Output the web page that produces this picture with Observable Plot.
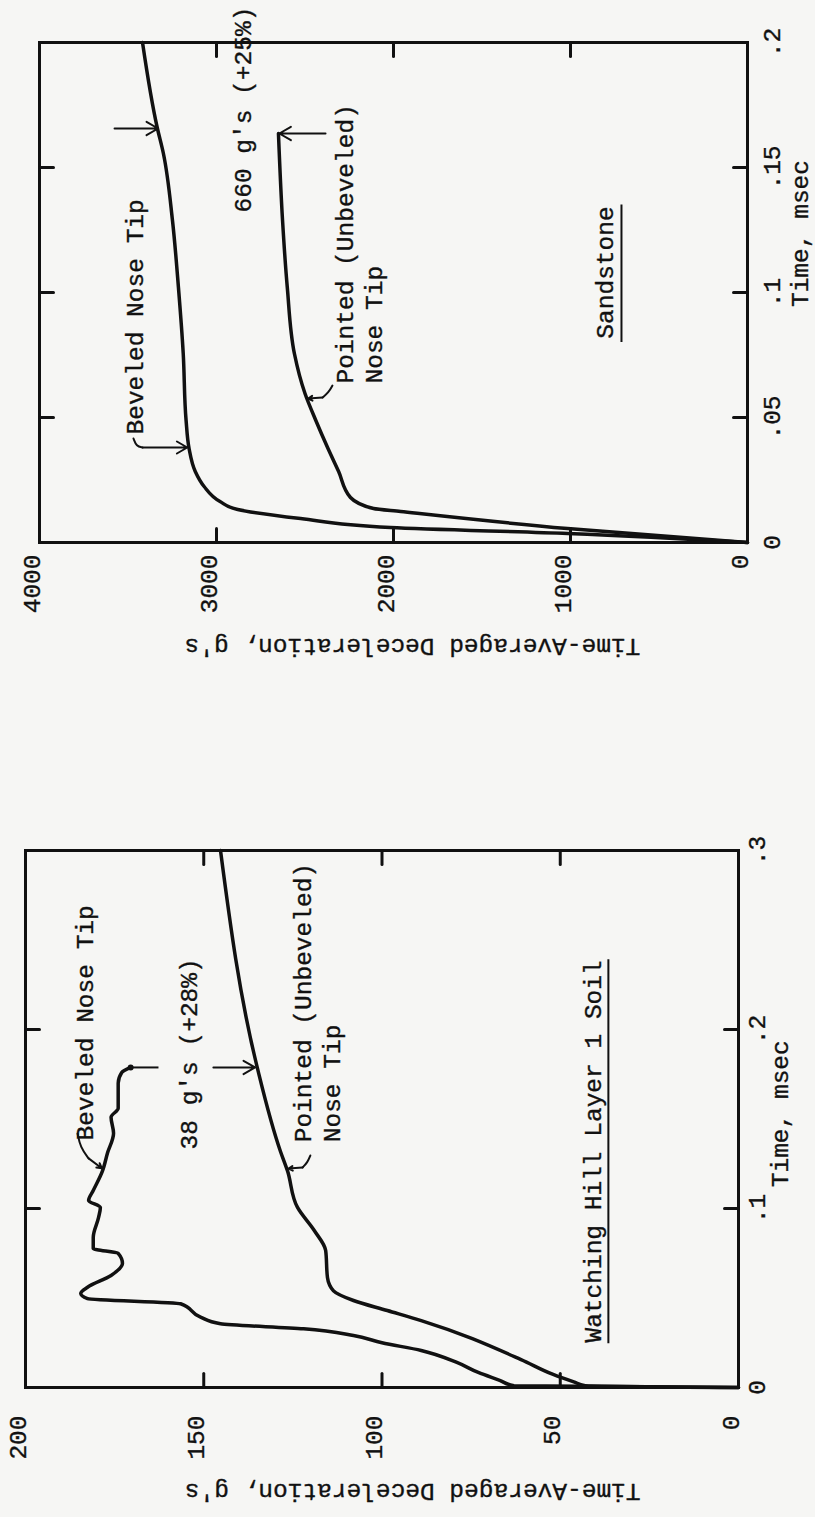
<!DOCTYPE html>
<html>
<head>
<meta charset="utf-8">
<script src="https://cdn.jsdelivr.net/npm/d3@7"></script>
<script src="https://cdn.jsdelivr.net/npm/@observablehq/plot@0.6"></script>
<style>
html, body { margin: 0; padding: 0; background: #f6f6f4; }
#page { width: 815px; height: 1517px; position: relative; overflow: hidden; background: #f6f6f4; }
#page svg { display: block; }
</style>
</head>
<body>
<div id="page"></div>
<script>
// ---------- Sandstone panel (time in msec, deceleration in g's) ----------
const sandBevTime = [0, 0.0036, 0.006, 0.0096, 0.0132, 0.0164, 0.0224, 0.0284, 0.0376, 0.049, 0.0756, 0.102, 0.129, 0.1556, 0.166, 0.2];
const sandBevG    = [0, 1017, 2017, 2525, 2880, 2980, 3070, 3120, 3155, 3172, 3188, 3215, 3249, 3300, 3335, 3418];
const sandPtTime  = [0, 0.0056, 0.0124, 0.0136, 0.018, 0.0284, 0.0376, 0.049, 0.0596, 0.0756, 0.102, 0.129, 0.1636];
const sandPtG     = [0, 1017, 1960, 2113, 2243, 2310, 2370, 2440, 2500, 2560, 2600, 2627, 2650];
const sandGTicks  = [0, 1000, 2000, 3000, 4000];
const sandGInner  = [1000, 2000, 3000];
const sandTTicks  = [0, 0.05, 0.1, 0.15, 0.2];
const sandTInner  = [0.05, 0.1, 0.15];
const sandNotes = [
  {g: 3469, t: 0.0432, text: "Beveled Nose Tip"},
  {g: 2859, t: 0.132, text: "660 g's (+25%)"},
  {g: 2200, t: 0.0636, text: "Pointed (Unbeveled)\nNose Tip"}
];
const sandSoil = [{g: 802, t: 0.108, text: "Sandstone"}];
const sandUnderline = [{g: 712, t1: 0.080, t2: 0.135}];
const sandArrows = [
  {g1: 3576, t1: 0.1656, g2: 3330, t2: 0.1656},
  {g1: 2384, t1: 0.1636, g2: 2645, t2: 0.1636}
];
const sandLeaderBev = [{g: 3469, t: 0.0416}, {g: 3452, t: 0.0384}, {g: 3418, t: 0.038}];
const sandLeaderBevTip = [{g1: 3418, t1: 0.038, g2: 3165, t2: 0.038}];
const sandLeaderPt = [{g: 2345, t: 0.0628}, {g: 2367, t: 0.06}, {g: 2401, t: 0.058}];
const sandLeaderPtTip = [{g1: 2401, t1: 0.058, g2: 2482, t2: 0.0576}];

// ---------- Watching Hill Layer 1 Soil panel ----------
const whBevTime = [0, 0.001, 0.004, 0.0084, 0.014, 0.0207, 0.025, 0.029, 0.0328, 0.0356, 0.0393, 0.0468, 0.0497, 0.0525, 0.056, 0.0626, 0.0693, 0.0749, 0.0777, 0.0838, 0.095, 0.1006, 0.1045, 0.11, 0.121, 0.131, 0.142, 0.151, 0.156, 0.164, 0.17, 0.176, 0.1788];
const whBevG    = [0, 63, 67, 73, 79, 89, 100, 108, 122, 145.3, 150.9, 156.5, 182.6, 184.5, 182.6, 176, 172.8, 174, 181, 181, 179.5, 179, 182.3, 181, 178.4, 177, 175.3, 176, 174, 174, 174, 173, 170.5];
const whPtTime  = [0, 0.001, 0.003, 0.0073, 0.0156, 0.0374, 0.043, 0.0486, 0.054, 0.0615, 0.0765, 0.0877, 0.1006, 0.121, 0.132, 0.1788, 0.3];
const whPtG     = [0, 43, 46, 52, 61, 89, 98.5, 108, 113.6, 115.3, 115.8, 119, 123.7, 126.5, 128.5, 135, 145.3];
const whGTicks  = [0, 50, 100, 150, 200];
const whGInner  = [50, 100, 150];
const whTTicks  = [0, 0.1, 0.2, 0.3];
const whTInner  = [0.1, 0.2];
const whNotes = [
  {g: 183.7, t: 0.138, text: "Beveled Nose Tip"},
  {g: 154.6, t: 0.133, text: "38 g's (+28%)"},
  {g: 118.5, t: 0.137, text: "Pointed (Unbeveled)\nNose Tip"}
];
const whSoil = [{g: 40.7, t: 0.0251, text: "Watching Hill Layer 1 Soil"}];
const whUnderline = [{g: 36.5, t1: 0.0245, t2: 0.239}];
const whDash = [{g1: 170.5, t1: 0.1788, g2: 162.7, t2: 0.1788}];
const whArrow = [{g1: 147.3, t1: 0.1788, g2: 135.6, t2: 0.1788}];
const whEndDot = [{g: 170.5, t: 0.1788}];
const whLeaderBev = [{g: 185.4, t: 0.1419}, {g: 184.6, t: 0.1341}, {g: 182.3, t: 0.128}];
const whLeaderBevTip = [{g1: 182.3, t1: 0.128, g2: 178.6, t2: 0.1225}];
const whLeaderPt = [{g: 120.1, t: 0.1296}, {g: 120.9, t: 0.1257}, {g: 122.3, t: 0.1229}];
const whLeaderPtTip = [{g1: 122.3, t1: 0.1229, g2: 126.2, t2: 0.1223}];

const timeTitle = "Time, msec";
const decelTitle = "Time-Averaged Deceleration, g's";

// ---------- helpers ----------
const ink = "#111111";
const FONT = "'Liberation Mono', 'DejaVu Sans Mono', monospace";
const FS = 24.5;
const zip = (ts, gs) => ts.map((t, i) => ({t, g: gs[i]}));
const fmtT = d => d === 0 ? "0" : String(d).replace(/^0/, "");
const tickShape = {draw(ctx, l) { ctx.moveTo(0, 0); ctx.lineTo(0, -l); }};

function frameTicks(gInner, tInner, gMax, tMax) {
  const o = {length: 14, anchor: "start", shape: tickShape, stroke: ink, strokeWidth: 3};
  return [
    Plot.vector(gInner, {...o, x: d => d, y: 0, rotate: 0}),
    Plot.vector(gInner, {...o, x: d => d, y: tMax, rotate: 180}),
    Plot.vector(tInner, {...o, y: d => d, x: 0, rotate: -90}),
    Plot.vector(tInner, {...o, y: d => d, x: gMax, rotate: 90})
  ];
}
const txt = {fontFamily: FONT, fontSize: FS, fill: ink, stroke: ink, strokeWidth: 0.35};

// ---------- Sandstone plot ----------
const sandPlot = Plot.plot({
  width: 815, height: 700,
  marginLeft: 39, marginRight: 68, marginTop: 42, marginBottom: 158,
  x: {domain: [0, 4000], reverse: true, axis: null},
  y: {domain: [0, 0.2], axis: null},
  style: {background: "transparent", overflow: "visible"},
  marks: [
    Plot.frame({stroke: ink, strokeWidth: 3}),
    ...frameTicks(sandGInner, sandTInner, 4000, 0.2),
    Plot.text(sandGTicks, {...txt, x: d => d, frameAnchor: "bottom", dy: 12, rotate: -90, textAnchor: "end", text: d => String(d)}),
    Plot.text(sandTTicks, {...txt, y: d => d, frameAnchor: "right", dx: 25, rotate: -90, textAnchor: "middle", text: fmtT}),
    Plot.text([{t: 0.153, label: timeTitle}], {...txt, y: "t", frameAnchor: "right", dx: 53, rotate: -90, textAnchor: "end", text: "label"}),
    Plot.text([{g: 1893, label: decelTitle}], {...txt, x: "g", frameAnchor: "bottom", dy: 96, rotate: 180, textAnchor: "middle", text: "label"}),
    Plot.line(zip(sandBevTime, sandBevG), {x: "g", y: "t", curve: "monotone-y", stroke: ink, strokeWidth: 3.5}),
    Plot.line(zip(sandPtTime, sandPtG), {x: "g", y: "t", curve: "monotone-y", stroke: ink, strokeWidth: 3.5}),
    Plot.text(sandNotes, {...txt, x: "g", y: "t", text: "text", rotate: -90, textAnchor: "start", lineHeight: 1.2}),
    Plot.text(sandSoil, {...txt, x: "g", y: "t", text: "text", rotate: -90, textAnchor: "middle"}),
    Plot.ruleX(sandUnderline, {x: "g", y1: "t1", y2: "t2", stroke: ink, strokeWidth: 2}),
    Plot.arrow(sandArrows, {x1: "g1", y1: "t1", x2: "g2", y2: "t2", stroke: ink, strokeWidth: 2, headLength: 10}),
    Plot.line(sandLeaderBev, {x: "g", y: "t", curve: "basis", stroke: ink, strokeWidth: 2}),
    Plot.arrow(sandLeaderBevTip, {x1: "g1", y1: "t1", x2: "g2", y2: "t2", stroke: ink, strokeWidth: 2, headLength: 9}),
    Plot.line(sandLeaderPt, {x: "g", y: "t", curve: "basis", stroke: ink, strokeWidth: 2}),
    Plot.arrow(sandLeaderPtTip, {x1: "g1", y1: "t1", x2: "g2", y2: "t2", stroke: ink, strokeWidth: 2, headLength: 9})
  ]
});

// ---------- Watching Hill plot ----------
const whPlot = Plot.plot({
  width: 815, height: 817,
  marginLeft: 25, marginRight: 77, marginTop: 150, marginBottom: 130,
  x: {domain: [0, 200], reverse: true, axis: null},
  y: {domain: [0, 0.3], axis: null},
  style: {background: "transparent", overflow: "visible"},
  marks: [
    Plot.frame({stroke: ink, strokeWidth: 3}),
    ...frameTicks(whGInner, whTInner, 200, 0.3),
    Plot.text(whGTicks, {...txt, x: d => d, frameAnchor: "bottom", dy: 28, rotate: -90, textAnchor: "end", text: d => String(d)}),
    Plot.text(whTTicks, {...txt, y: d => d, frameAnchor: "right", dx: 19, rotate: -90, textAnchor: "middle", text: fmtT}),
    Plot.text([{t: 0.194, label: timeTitle}], {...txt, y: "t", frameAnchor: "right", dx: 42, rotate: -90, textAnchor: "end", text: "label"}),
    Plot.text([{g: 91.4, label: decelTitle}], {...txt, x: "g", frameAnchor: "bottom", dy: 96, rotate: 180, textAnchor: "middle", text: "label"}),
    Plot.line(zip(whBevTime, whBevG), {x: "g", y: "t", curve: "monotone-y", stroke: ink, strokeWidth: 3.5}),
    Plot.line(zip(whPtTime, whPtG), {x: "g", y: "t", curve: "monotone-y", stroke: ink, strokeWidth: 3.5}),
    Plot.dot(whEndDot, {x: "g", y: "t", r: 3, fill: ink, stroke: "none"}),
    Plot.text(whNotes, {...txt, x: "g", y: "t", text: "text", rotate: -90, textAnchor: "start", lineHeight: 1.2}),
    Plot.text(whSoil, {...txt, x: "g", y: "t", text: "text", rotate: -90, textAnchor: "start"}),
    Plot.ruleX(whUnderline, {x: "g", y1: "t1", y2: "t2", stroke: ink, strokeWidth: 2}),
    Plot.link(whDash, {x1: "g1", y1: "t1", x2: "g2", y2: "t2", stroke: ink, strokeWidth: 2}),
    Plot.arrow(whArrow, {x1: "g1", y1: "t1", x2: "g2", y2: "t2", stroke: ink, strokeWidth: 2, headLength: 10}),
    Plot.line(whLeaderBev, {x: "g", y: "t", curve: "basis", stroke: ink, strokeWidth: 2}),
    Plot.arrow(whLeaderBevTip, {x1: "g1", y1: "t1", x2: "g2", y2: "t2", stroke: ink, strokeWidth: 2, headLength: 9}),
    Plot.line(whLeaderPt, {x: "g", y: "t", curve: "basis", stroke: ink, strokeWidth: 2}),
    Plot.arrow(whLeaderPtTip, {x1: "g1", y1: "t1", x2: "g2", y2: "t2", stroke: ink, strokeWidth: 2, headLength: 9})
  ]
});

const page = document.getElementById("page");
page.appendChild(sandPlot);
page.appendChild(whPlot);
</script>
</body>
</html>
